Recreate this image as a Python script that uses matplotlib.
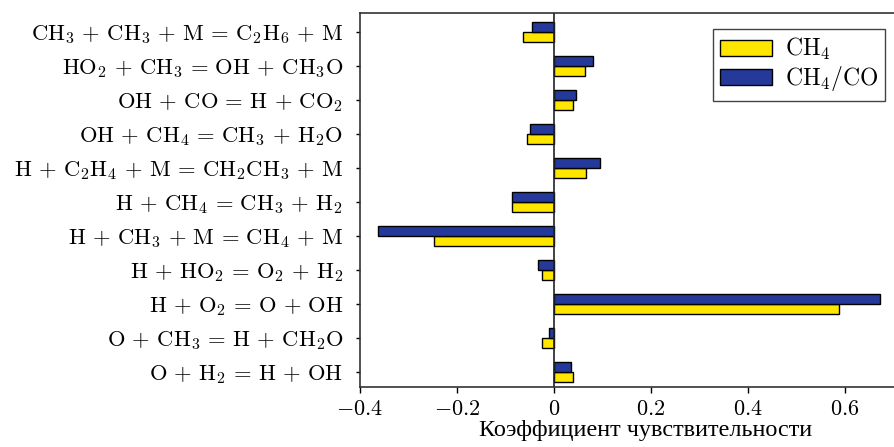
import re
import numpy as np
import matplotlib
matplotlib.use("Agg")
import matplotlib.pyplot as plt
from matplotlib.ticker import FuncFormatter

plt.rcParams["mathtext.fontset"] = "cm"
plt.rcParams["font.family"] = ["Liberation Serif", "DejaVu Serif"]

# reactions, bottom to top
reactions = [
    "O + H_2 = H + OH",
    "O + CH_3 = H + CH_2O",
    "H + O_2 = O + OH",
    "H + HO_2 = O_2 + H_2",
    "H + CH_3 + M = CH_4 + M",
    "H + CH_4 = CH_3 + H_2",
    "H + C_2H_4 + M = CH_2CH_3 + M",
    "OH + CH_4 = CH_3 + H_2O",
    "OH + CO = H + CO_2",
    "HO_2 + CH_3 = OH + CH_3O",
    "CH_3 + CH_3 + M = C_2H_6 + M",
]
sens_ch4 = [0.040, -0.025, 0.589, -0.025, -0.247, -0.086, 0.066, -0.055, 0.040, 0.064, -0.063]
sens_ch4_co = [0.036, -0.010, 0.673, -0.032, -0.363, -0.086, 0.096, -0.050, 0.045, 0.080, -0.045]
xticks = [-0.4, -0.2, 0, 0.2, 0.4, 0.6]


def to_tex(s):
    # "CH_3 + M" -> mathtext with roman letters and TeX-like operator spacing
    out = []
    for tok in s.split(" "):
        if tok in "+=":
            out.append(r"\," + tok + r"\,")
        else:
            out.append(re.sub(r"([A-Z]+)", r"\\mathrm{\1}", tok))
    return "$" + "".join(out) + "$"


fig = plt.figure(figsize=(8.95, 4.47), dpi=100)
ax = fig.add_axes([0.4022, 0.1342, 0.639, 0.836])

y = np.arange(len(reactions))
h = 0.29
ax.barh(y - h / 2, sens_ch4, height=h, color="#ffe600", edgecolor="black",
        linewidth=1.0, label=r"$\mathrm{CH}_4$", zorder=2)
ax.barh(y + h / 2, sens_ch4_co, height=h, color="#24399a", edgecolor="black",
        linewidth=1.0, label=r"$\mathrm{CH}_4/\mathrm{CO}$", zorder=2)
ax.axvline(0, color="#222222", linewidth=1.2, zorder=3)

ax.set_xlim(-0.4, 0.78)
ax.set_ylim(-0.45, 10.54)
ax.set_yticks(y)
ax.set_yticklabels([to_tex(r) for r in reactions], fontsize=16.3)
ax.set_xticks(xticks)
ax.xaxis.set_major_formatter(FuncFormatter(lambda v, p: r"$%g$" % v if v >= 0 else r"$-%g$" % abs(v)))
ax.tick_params(axis="x", labelsize=16, length=4, width=1.0, direction="out", pad=6)
ax.tick_params(axis="y", length=3, width=1.0, direction="out", pad=9)
for s in ax.spines.values():
    s.set_linewidth(1.2)
    s.set_color("#333333")

ax.set_xlabel("Коэффициент чувствительности", fontsize=17.5, labelpad=0)

leg = ax.legend(loc="upper left", bbox_to_anchor=(0.617, 0.958), borderaxespad=0,
                fontsize=17, fancybox=False, framealpha=1, edgecolor="#444444",
                handlelength=2.2, handleheight=0.65, labelspacing=0.1,
                handletextpad=0.55, borderpad=0.3)
leg.get_frame().set_linewidth(1.0)

fig.savefig("out.png", dpi=100)
